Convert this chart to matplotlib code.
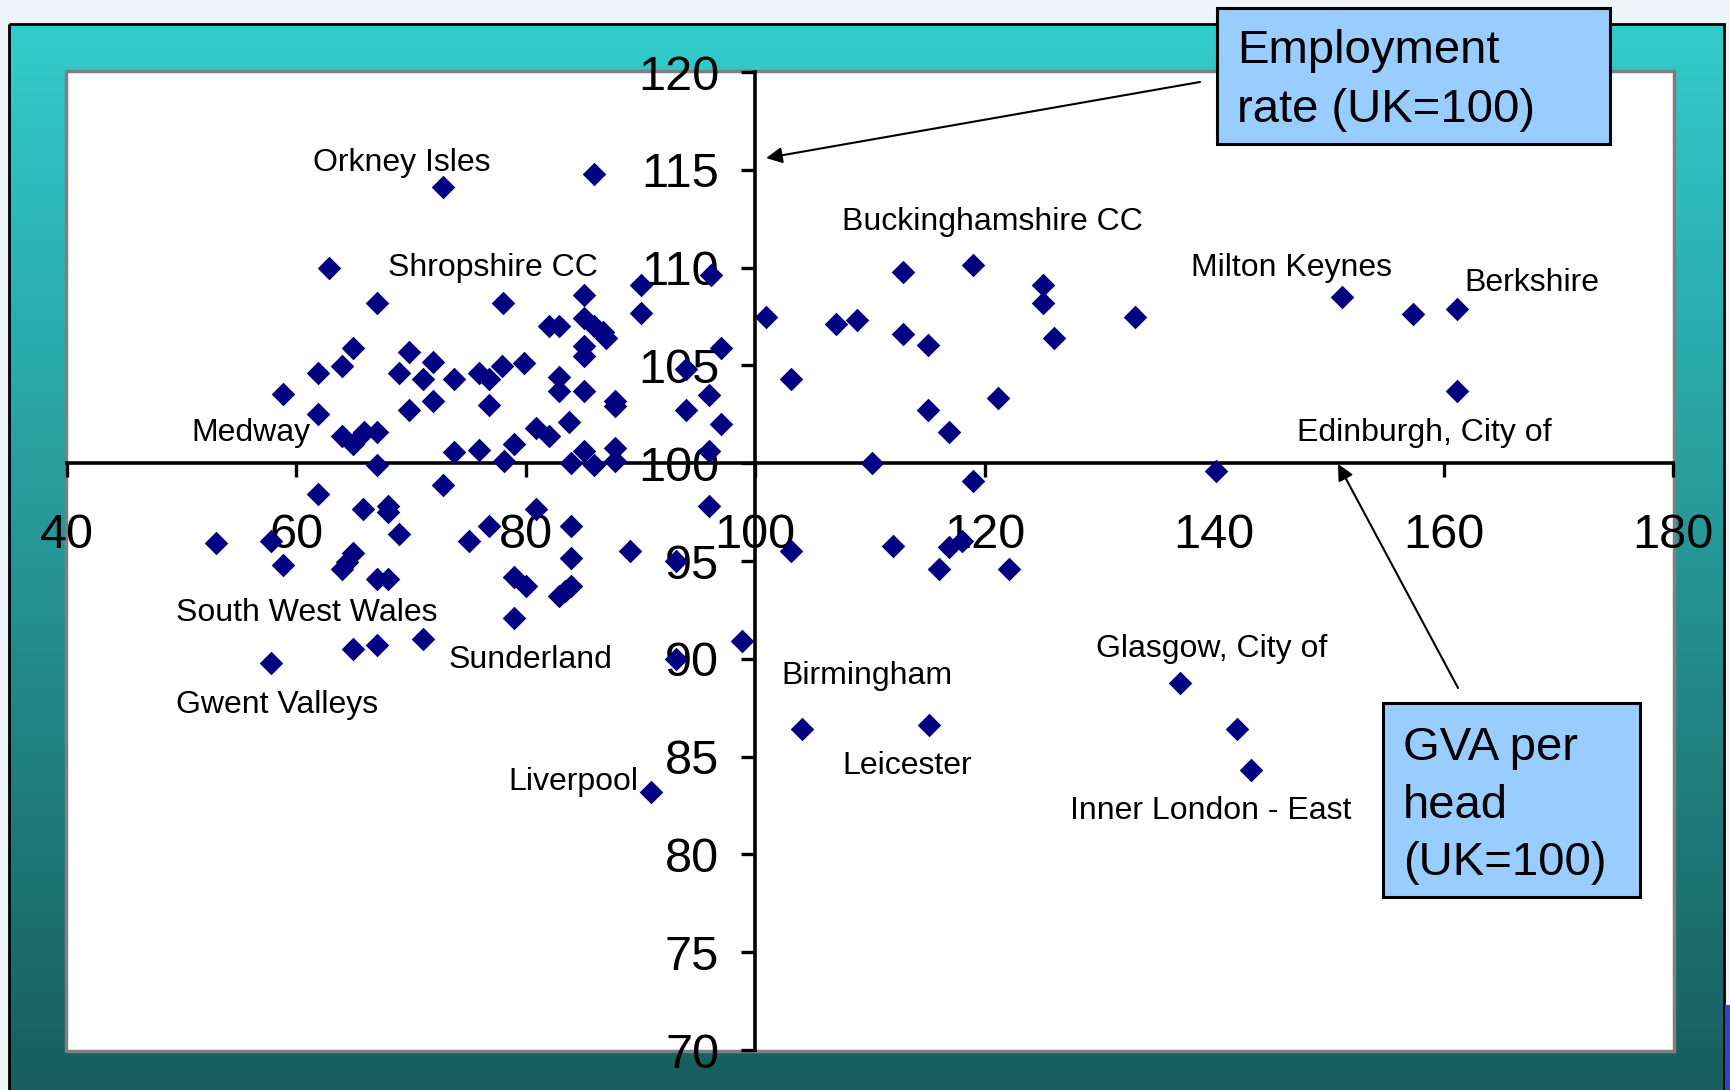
import matplotlib
matplotlib.use("Agg")
import matplotlib.pyplot as plt
import numpy as np
from matplotlib.patches import Rectangle

plt.rcParams['font.family'] = ['Liberation Sans', 'DejaVu Sans']

# ---------------- data ----------------
gva_per_head = [
    62.8, 67.05, 64.9, 69.8, 64.0, 61.9, 71.9, 68.9, 71.0, 73.7,
    58.8, 61.9, 69.8, 71.9, 64.0, 64.9, 65.9, 67.05, 73.7, 67.05,
    78.05, 85.1, 90.0, 96.1, 90.0, 82.0, 82.9, 85.1, 85.9, 86.7,
    87.0, 85.1, 85.1, 97.0, 93.95, 75.9, 76.8, 77.9, 79.8, 82.9,
    82.9, 85.1, 87.8, 87.8, 76.8, 96.0, 93.95, 97.0, 83.75, 80.85,
    82.0, 78.95, 75.9, 85.1, 87.8, 96.0, 78.1, 83.9, 85.9, 87.8,
    100.9, 112.9, 119.0, 125.1, 125.1, 126.05, 107.05, 108.9, 112.9, 115.05,
    103.1, 121.2, 115.05, 116.9, 110.2, 119.0, 133.1, 151.15, 157.3, 161.2,
    161.2, 140.15, 72.8, 85.9,
    61.9, 72.8, 65.8, 67.95, 67.95, 68.9, 53.0, 57.8, 58.8, 75.0,
    64.9, 64.4, 64.0, 67.05, 67.95, 57.8, 64.9, 67.05, 71.0,
    96.0, 80.85, 76.8, 83.9, 89.1, 83.9, 93.1, 78.95, 79.97, 82.9,
    83.9, 83.4, 78.95, 98.8, 93.1,
    103.1, 112.0, 116.9, 118.05, 116.0, 122.1, 104.1, 115.1, 137.05, 142.0,
    143.2, 90.9,
]
employment_rate = [
    110.0, 108.2, 105.9, 105.7, 104.96, 104.6, 105.15, 104.6, 104.3, 104.3,
    103.55, 102.5, 102.7, 103.2, 101.4, 101.0, 101.6, 101.6, 100.55, 99.9,
    108.2, 108.6, 109.1, 109.6, 107.7, 107.0, 107.0, 107.4, 107.0, 106.7,
    106.4, 106.0, 105.5, 105.9, 104.8, 104.6, 104.3, 104.96, 105.1, 104.4,
    103.7, 103.7, 103.2, 102.9, 103.0, 103.5, 102.7, 102.0, 102.1, 101.8,
    101.4, 100.97, 100.7, 100.6, 100.8, 100.6, 100.1, 100.0, 99.9, 100.1,
    107.5, 109.8, 110.15, 109.1, 108.2, 106.4, 107.1, 107.3, 106.6, 106.05,
    104.3, 103.35, 102.7, 101.6, 100.0, 99.1, 107.5, 108.5, 107.65, 107.9,
    103.7, 99.6, 114.1, 114.8,
    98.4, 98.9, 97.65, 97.8, 97.5, 96.4, 95.9, 96.0, 94.8, 96.0,
    95.4, 94.95, 94.6, 94.1, 94.1, 89.8, 90.5, 90.7, 91.0,
    97.8, 97.65, 96.8, 96.8, 95.5, 95.15, 95.0, 94.2, 93.7, 93.2,
    93.7, 93.45, 92.1, 90.9, 90.0,
    95.5, 95.75, 95.7, 96.0, 94.6, 94.6, 86.4, 86.6, 88.75, 86.4,
    84.3, 83.2,
]

label_names = [
    "Orkney Isles", "Shropshire CC", "Medway", "Buckinghamshire CC",
    "Milton Keynes", "Berkshire", "Edinburgh, City of", "South West Wales",
    "Sunderland", "Gwent Valleys", "Liverpool", "Birmingham", "Leicester",
    "Glasgow, City of", "Inner London - East",
]
label_x = [61.45, 68.0, 50.85, 107.6, 138.0, 161.8, 147.2, 49.5,
           73.3, 49.5, 78.5, 102.3, 107.6, 129.7, 127.4]
label_y = [115.55, 110.15, 101.7, 112.5, 110.15, 109.4, 101.7, 92.5,
           90.1, 87.8, 83.9, 89.3, 84.7, 90.7, 82.4]

x_ticks = [40, 60, 80, 100, 120, 140, 160, 180]
y_ticks = [70, 75, 80, 85, 90, 95, 100, 105, 110, 115, 120]

# ---------------- figure ----------------
W, H = 1731, 1090
fig = plt.figure(figsize=(W / 100, H / 100), dpi=100)

def fx(x):
    return x / W

def fy(y):
    return 1 - y / H

# background layer in pixel coordinates
bg = fig.add_axes([0, 0, 1, 1], zorder=0)
bg.set_xlim(0, W)
bg.set_ylim(H, 0)
bg.axis('off')
bg.add_patch(Rectangle((0, 0), W, H, facecolor='#eef5f9', edgecolor='none'))
top_c = np.array([51, 204, 204]) / 255
bot_c = np.array([24, 94, 94]) / 255
t = np.linspace(0, 1, 256)[:, None, None]
grad = top_c[None, None, :] * (1 - t) + bot_c[None, None, :] * t
bg.imshow(grad, extent=(9, 1724, H, 24), aspect='auto', interpolation='bilinear', zorder=1)
bg.add_patch(Rectangle((9, 24), 1715, H, fill=False, edgecolor='black', lw=2.0, zorder=2))
bg.add_patch(Rectangle((1725, 1005), 8, 90, facecolor='#2a48c8', edgecolor='none', zorder=2))
bg.add_patch(Rectangle((66, 71), 1608, 980, facecolor='white', edgecolor='#7f7f7f', lw=2.5, zorder=3))

# main axes
ax = fig.add_axes([fx(67), fy(1050), (1673 - 67) / W, (1050 - 72) / H], zorder=2)
ax.set_facecolor('none')
ax.set_xlim(40, 180)
ax.set_ylim(70, 120)
ax.spines['top'].set_visible(False)
ax.spines['right'].set_visible(False)
ax.spines['left'].set_position(('data', 100))
ax.spines['bottom'].set_position(('data', 100))
for s in ('left', 'bottom'):
    ax.spines[s].set_linewidth(2.6)
ax.set_xticks(x_ticks)
ax.set_yticks(y_ticks)
ax.set_xticklabels([str(v) for v in x_ticks])
ax.set_yticklabels([str(v) for v in y_ticks])
ax.tick_params(axis='x', direction='out', length=10, width=2.4, pad=26, labelsize=35)
ax.tick_params(axis='y', direction='out', length=10, width=2.4, pad=16, labelsize=35)

ax.scatter(gva_per_head, employment_rate, marker='D', s=144, c='#000080',
           linewidths=0, zorder=3, clip_on=False)

for name, lx, ly in zip(label_names, label_x, label_y):
    ax.text(lx, ly, name, fontsize=23, ha='left', va='center_baseline',
            color='black', zorder=4)

# arrows
ax.annotate('', xy=(100.94, 115.60), xytext=(138.77, 119.49),
            arrowprops=dict(arrowstyle='-|>', color='black', lw=1.5,
                            shrinkA=0, shrinkB=0, mutation_scale=24),
            annotation_clip=False, zorder=9)
ax.annotate('', xy=(150.80, 99.96), xytext=(161.26, 88.51),
            arrowprops=dict(arrowstyle='-|>', color='black', lw=1.5,
                            shrinkA=0, shrinkB=0, mutation_scale=24),
            annotation_clip=False, zorder=9)

# annotation boxes
fig.add_artist(Rectangle((fx(1217), fy(144)), (1610 - 1217) / W, (144 - 8) / H,
                         transform=fig.transFigure, facecolor='#99CCFF',
                         edgecolor='black', lw=2.2, zorder=10))
fig.text(fx(1237), fy(63), 'Employment', fontsize=34, va='baseline', ha='left', zorder=11)
fig.text(fx(1237), fy(122), 'rate (UK=100)', fontsize=34, va='baseline', ha='left', zorder=11)

fig.add_artist(Rectangle((fx(1383), fy(897)), (1640 - 1383) / W, (897 - 703) / H,
                         transform=fig.transFigure, facecolor='#99CCFF',
                         edgecolor='black', lw=2.2, zorder=10))
fig.text(fx(1403), fy(760), 'GVA per', fontsize=34, va='baseline', ha='left', zorder=11)
fig.text(fx(1403), fy(818), 'head', fontsize=34, va='baseline', ha='left', zorder=11)
fig.text(fx(1403), fy(875), '(UK=100)', fontsize=34, va='baseline', ha='left', zorder=11)

fig.savefig('out.png', dpi=100)
